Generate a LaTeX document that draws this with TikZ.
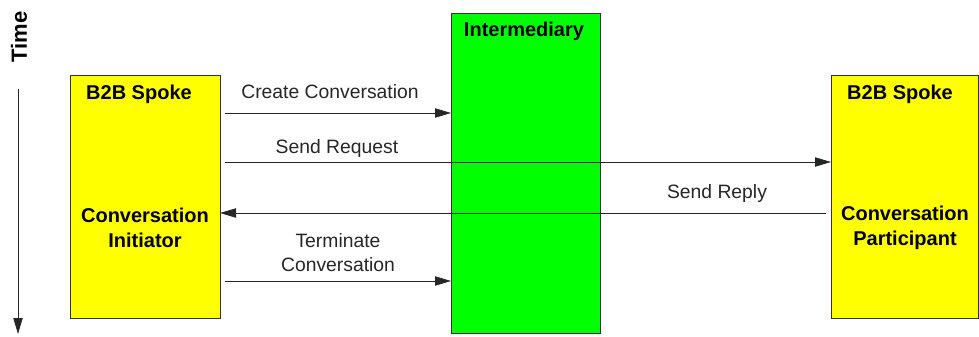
\documentclass[tikz,border=0pt]{standalone}
\usepackage{fontspec}
\setmainfont{Liberation Sans}
\usetikzlibrary{arrows.meta}
\definecolor{spokeyellow}{RGB}{255,255,0}
\definecolor{hubgreen}{RGB}{0,255,0}
\tikzset{
  lane/.style={draw=black!80, line width=0.6pt},
  msg/.style={draw=black!85, line width=0.6pt, -{Triangle[length=12pt,width=7pt]}},
  msglabel/.style={font=\fontsize{14.5pt}{18pt}\selectfont, text=black!85, align=center, inner sep=0pt},
  boxlabel/.style={font=\bfseries\fontsize{15pt}{19pt}\selectfont, align=center, inner sep=0pt}
}
\begin{document}
\begin{tikzpicture}[x=0.75pt,y=-0.75pt]
\useasboundingbox (0,0) rectangle (979,336);
% participants
\draw[lane, fill=spokeyellow] (70,75) rectangle (220,318);
\draw[lane, fill=hubgreen] (451,13) rectangle (600,333);
\draw[lane, fill=spokeyellow] (831,75) rectangle (978.5,318);
\node[boxlabel] (ls) at (139,94) {B2B Spoke};
\node[boxlabel] (li) at (145,228) {Conversation\\Initiator};
\node[boxlabel] (hm) at (524,31) {Intermediary};
\node[boxlabel] (rs) at (900,94) {B2B Spoke};
\node[boxlabel] (rp) at (905,228) {Conversation\\Participant};
% anchor points on the lifelines
\coordinate (a1) at (225,113); \coordinate (b1) at (451,113);
\coordinate (a2) at (225,162); \coordinate (b2) at (831,162);
\coordinate (a3) at (826,213); \coordinate (b3) at (220,213);
\coordinate (a4) at (225,281); \coordinate (b4) at (451,281);
% messages
\draw[msg] (a1) -- (b1);
\draw[msg] (a2) -- (b2);
\draw[msg] (a3) -- (b3);
\draw[msg] (a4) -- (b4);
\node[msglabel] (m1) at (330,92) {Create Conversation};
\node[msglabel] (m2) at (337,148) {Send Request};
\node[msglabel] (m3) at (717,193) {Send Reply};
\node[msglabel] (m4) at (338,253) {Terminate\\Conversation};
% time axis
\node[boxlabel, rotate=90, font=\bfseries\fontsize{16.5pt}{19pt}\selectfont] (time) at (19,37) {Time};
\coordinate (t0) at (18,89);
\coordinate (t1) at (18,334);
\draw[msg] (t0) -- (t1);
\end{tikzpicture}
\end{document}
